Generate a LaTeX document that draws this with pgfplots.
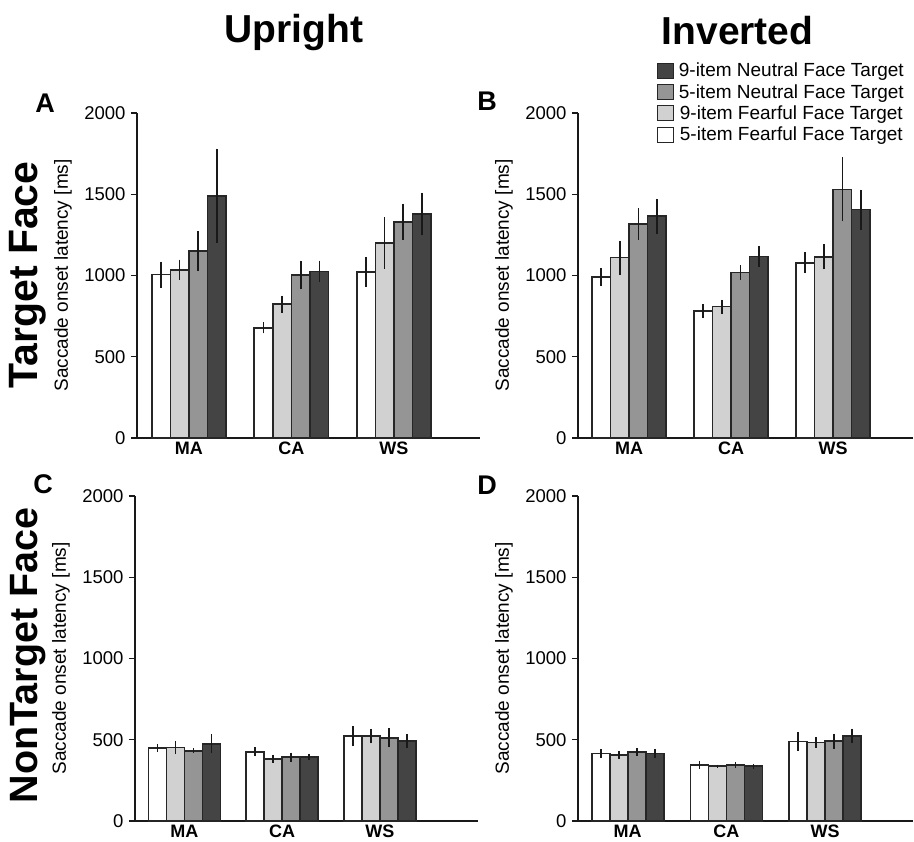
\documentclass[border=0pt]{standalone}
\usepackage{fontspec}
\setmainfont{Liberation Sans}
\usepackage{pgfplots}
\pgfplotsset{compat=1.18}
\definecolor{cw}{HTML}{FFFFFF}
\definecolor{cl}{HTML}{D0D1D0}
\definecolor{cm}{HTML}{959595}
\definecolor{cd}{HTML}{444444}
\pgfplotsset{
 panel/.style={
  scale only axis, height=325pt, ymin=0, ymax=2000,
  ybar=0pt,
  axis x line=bottom, axis y line=left,
  axis line style={line width=1.5pt, -, black!90},
  ytick={0,500,1000,1500,2000},
  xtick={0,1,2}, xticklabels={MA,CA,WS},
  x tick style={draw=none},
  y tick style={line width=1.4pt, black!90},
  tick align=outside, major tick length=6pt,
  /pgf/number format/assume math mode=true,
  yticklabel style={font=\fontsize{18.5}{20}\selectfont, /pgf/number format/1000 sep={}, xshift=-2pt},
  xticklabel style={font=\bfseries\fontsize{18}{20}\selectfont, inner sep=0pt, yshift=2pt},
  ylabel={Saccade onset latency [ms]},
  ylabel style={at={(axis description cs:0,0.5)}, anchor=center, yshift=74pt, font=\fontsize{19}{21}\selectfont},
  clip=false,
 },
 eb/.style={draw=black!85, line width=1.6pt, error bars/.cd, y dir=both, y explicit, error bar style={line width=1.6pt, black!90}, error mark=none, /pgfplots/.cd},
}
\begin{document}
\begin{tikzpicture}
\useasboundingbox (0,0) rectangle (914pt,842pt);
% Panel A
\begin{axis}[panel, at={(137pt,729pt)}, anchor=north west, width=343pt, xmin=-0.507, xmax=2.839, bar width=18.6pt]
\addplot[fill=cw, eb] coordinates {(0,1005) +- (0,80) (1,678) +- (0,34) (2,1022) +- (0,92)};
\addplot[fill=cl, eb] coordinates {(0,1035) +- (0,62) (1,824) +- (0,52) (2,1200) +- (0,158)};
\addplot[fill=cm, eb] coordinates {(0,1150) +- (0,122) (1,1003) +- (0,88) (2,1330) +- (0,112)};
\addplot[fill=cd, eb] coordinates {(0,1490) +- (0,290) (1,1024) +- (0,67) (2,1379) +- (0,131)};
\end{axis}
% Panel B
\begin{axis}[panel, at={(578pt,729pt)}, anchor=north west, width=335pt, xmin=-0.5, xmax=2.784, bar width=18.6pt,
  reverse legend,
  legend style={draw=none, fill=none, at={(0.985,1.163)}, anchor=north east, font=\fontsize{19}{21}\selectfont, row sep=4pt, nodes={inner sep=1pt},
    /tikz/every odd column/.append style={column sep=4pt}},
  legend image code/.code={\draw[#1, line width=1.1pt] (0pt,-7.5pt) rectangle (16pt,7.5pt);}]
\addplot[fill=cw, eb] coordinates {(0,990) +- (0,57) (1,780) +- (0,42) (2,1078) +- (0,64)};
\addplot[fill=cl, eb] coordinates {(0,1110) +- (0,105) (1,808) +- (0,43) (2,1115) +- (0,77)};
\addplot[fill=cm, eb] coordinates {(0,1315) +- (0,98) (1,1019) +- (0,44) (2,1530) +- (0,197)};
\addplot[fill=cd, eb] coordinates {(0,1365) +- (0,108) (1,1118) +- (0,64) (2,1405) +- (0,123)};
\legend{5-item Fearful Face Target, 9-item Fearful Face Target, 5-item Neutral Face Target, 9-item Neutral Face Target}
\end{axis}
% Panel C
\begin{axis}[panel, at={(135pt,346pt)}, anchor=north west, width=343pt, xmin=-0.506, xmax=3.003, bar width=18pt]
\addplot[fill=cw, eb] coordinates {(0,450) +- (0,25) (1,425) +- (0,28) (2,522) +- (0,61)};
\addplot[fill=cl, eb] coordinates {(0,452) +- (0,41) (1,383) +- (0,25) (2,522) +- (0,45)};
\addplot[fill=cm, eb] coordinates {(0,432) +- (0,15) (1,393) +- (0,27) (2,512) +- (0,58)};
\addplot[fill=cd, eb] coordinates {(0,475) +- (0,58) (1,393) +- (0,20) (2,491) +- (0,42)};
\end{axis}
% Panel D
\begin{axis}[panel, at={(578pt,346pt)}, anchor=north west, width=335pt, xmin=-0.504, xmax=2.892, bar width=18pt]
\addplot[fill=cw, eb] coordinates {(0,415) +- (0,25) (1,345) +- (0,24) (2,490) +- (0,58)};
\addplot[fill=cl, eb] coordinates {(0,405) +- (0,25) (1,337) +- (0,10) (2,484) +- (0,32)};
\addplot[fill=cm, eb] coordinates {(0,425) +- (0,22) (1,343) +- (0,17) (2,492) +- (0,46)};
\addplot[fill=cd, eb] coordinates {(0,415) +- (0,25) (1,337) +- (0,15) (2,524) +- (0,45)};
\end{axis}
% Titles and labels
\node[font=\bfseries\fontsize{39}{42}\selectfont, anchor=base] at (294pt,799pt) {Upright};
\node[font=\bfseries\fontsize{39}{42}\selectfont, anchor=base] at (737.5pt,797pt) {Inverted};
\node[rotate=90, font=\bfseries\fontsize{41}{45}\selectfont] at (28pt,567pt) {Target Face};
\node[rotate=90, font=\bfseries\fontsize{39.5}{43}\selectfont] at (28pt,186.5pt) {NonTarget Face};
\node[font=\bfseries\fontsize{27}{29}\selectfont] at (45pt,739pt) {A};
\node[font=\bfseries\fontsize{27}{29}\selectfont] at (487pt,741pt) {B};
\node[font=\bfseries\fontsize{27}{29}\selectfont] at (43pt,358pt) {C};
\node[font=\bfseries\fontsize{27}{29}\selectfont] at (487pt,357pt) {D};
\end{tikzpicture}
\end{document}
